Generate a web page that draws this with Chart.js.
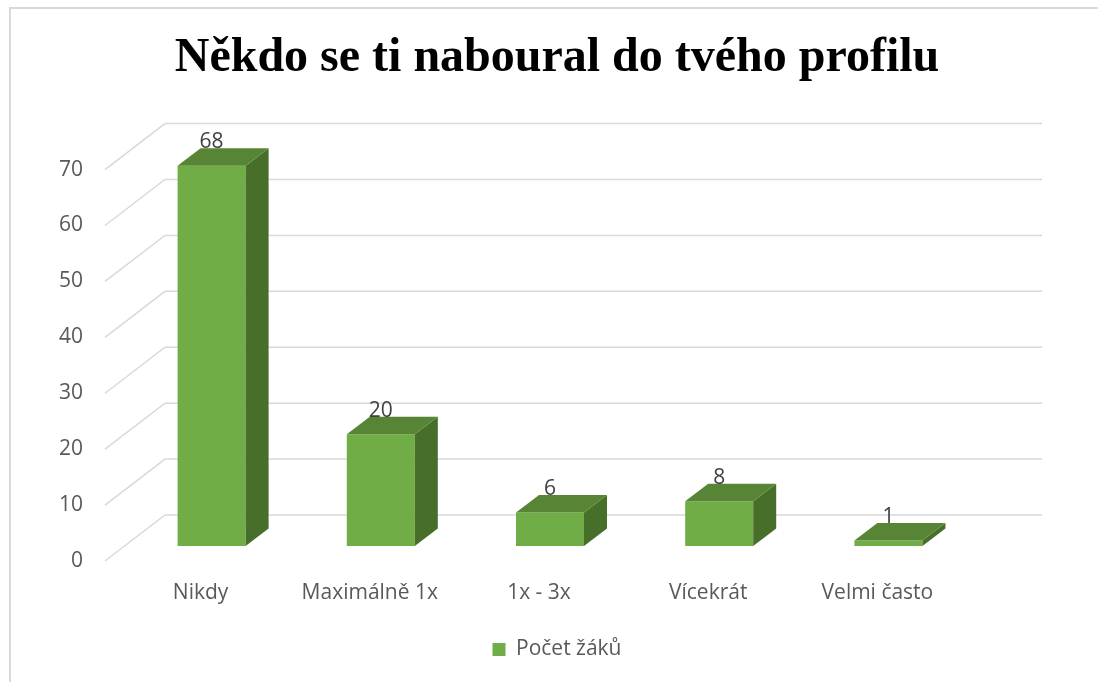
<!DOCTYPE html>
<html>
<head>
<meta charset="utf-8">
<script src="https://cdn.jsdelivr.net/npm/chart.js@4.4.1/dist/chart.umd.min.js"></script>
<style>
html, body { margin: 0; padding: 0; background: #fff; }
#wrap { width: 1098px; height: 682px; position: relative; }
</style>
</head>
<body>
<div id="wrap"><canvas id="myChart"></canvas></div>
<script>
// data
var categories = ['Nikdy', 'Maximálně 1x', '1x - 3x', 'Vícekrát', 'Velmi často'];
var pocetZaku = [68, 20, 6, 8, 1];
var yTicks = [0, 10, 20, 30, 40, 50, 60, 70];

var FRONT = '#70ad47', TOP = '#578535', SIDE = '#486f2a', GRID = '#d9d9d9';
var DX = 23, DY = 17.5; // hloubka sloupce
var TEXT = '#595959';

// 3D sloupce, mřížka se šikmou podlahou, rámeček
var plot3d = {
    id: 'plot3d',
    beforeDraw: function (c) {
        var ctx = c.ctx;
        ctx.save();
        ctx.strokeStyle = GRID;
        ctx.lineWidth = 2;
        ctx.beginPath();
        ctx.moveTo(10, 682); ctx.lineTo(10, 8); ctx.lineTo(1098, 8);
        ctx.stroke();
        ctx.restore();
    },
    beforeDatasetsDraw: function (c) {
        var ctx = c.ctx, y = c.scales.y, a = c.chartArea;
        ctx.save();
        ctx.strokeStyle = GRID;
        ctx.lineWidth = 1.5;
        y.ticks.forEach(function (t) {
            var py = y.getPixelForValue(t.value);
            ctx.beginPath();
            ctx.moveTo(a.left - 22, py + 15);
            ctx.lineTo(a.left + 38, py - 31);
            ctx.lineTo(a.right + 69, py - 31);
            ctx.stroke();
        });
        ctx.restore();
    },
    afterDatasetsDraw: function (c) {
        var ctx = c.ctx;
        var meta = c.getDatasetMeta(0);
        ctx.save();
        meta.data.forEach(function (bar, i) {
            var p = bar.getProps(['x', 'y', 'base', 'width'], true);
            var l = p.x - p.width / 2, r = p.x + p.width / 2;
            // bok
            ctx.fillStyle = SIDE;
            ctx.beginPath();
            ctx.moveTo(r, p.y);
            ctx.lineTo(r + DX, p.y - DY);
            ctx.lineTo(r + DX, p.base - DY);
            ctx.lineTo(r, p.base);
            ctx.closePath();
            ctx.fill();
            // vršek
            ctx.fillStyle = TOP;
            ctx.beginPath();
            ctx.moveTo(l, p.y);
            ctx.lineTo(l + DX, p.y - DY);
            ctx.lineTo(r + DX, p.y - DY);
            ctx.lineTo(r, p.y);
            ctx.closePath();
            ctx.fill();
            // hodnota
            ctx.fillStyle = '#404040';
            ctx.font = '21px "Open Sans"';
            ctx.textAlign = 'center';
            ctx.textBaseline = 'alphabetic';
            ctx.fillText(String(pocetZaku[i]), p.x, p.y - DY);
        });
        ctx.restore();
    }
};

var chart = document.querySelector('#myChart');
var myChart = new Chart(chart, {
    type: 'bar',
    data: {
        labels: categories,
        datasets: [{
            label: 'Počet žáků',
            data: pocetZaku,
            backgroundColor: FRONT,
            borderWidth: 0,
            categoryPercentage: 1,
            barPercentage: 0.402
        }]
    },
    options: {
        responsive: true,
        maintainAspectRatio: false,
        animation: false,
        layout: { padding: { left: 16, right: 0, top: 0, bottom: 12 } },
        scales: {
            x: {
                grid: { display: false, drawTicks: false },
                border: { display: false },
                ticks: {
                    color: TEXT,
                    font: { family: 'Open Sans', size: 21 },
                    padding: 34,
                    labelOffset: -11,
                    maxRotation: 0
                },
                afterFit: function (s) { s.height = 83; }
            },
            y: {
                min: 0,
                max: 70,
                grid: { display: false, drawTicks: false },
                border: { display: false },
                afterBuildTicks: function (s) {
                    s.ticks = yTicks.map(function (v) { return { value: v }; });
                },
                ticks: {
                    color: TEXT,
                    font: { family: 'Open Sans', size: 21 },
                    padding: 44,
                    labelOffset: 15
                },
                afterFit: function (s) { s.width = 111; }
            },
            // prázdná osa vpravo jen kvůli místu za zadní stěnou
            y2: {
                position: 'right',
                grid: { display: false, drawTicks: false },
                border: { display: false },
                ticks: { display: false },
                afterFit: function (s) { s.width = 125; }
            }
        },
        plugins: {
            title: {
                display: true,
                text: 'Někdo se ti naboural do tvého profilu',
                color: '#000',
                font: { family: 'Liberation Serif', size: 48, weight: 'bold' },
                padding: { top: 30, bottom: 67 }
            },
            legend: {
                position: 'bottom',
                labels: {
                    color: TEXT,
                    font: { family: 'Open Sans', size: 21 },
                    boxWidth: 13,
                    boxHeight: 13
                }
            },
            tooltip: { enabled: false }
        }
    },
    plugins: [plot3d]
});
</script>
</body>
</html>
